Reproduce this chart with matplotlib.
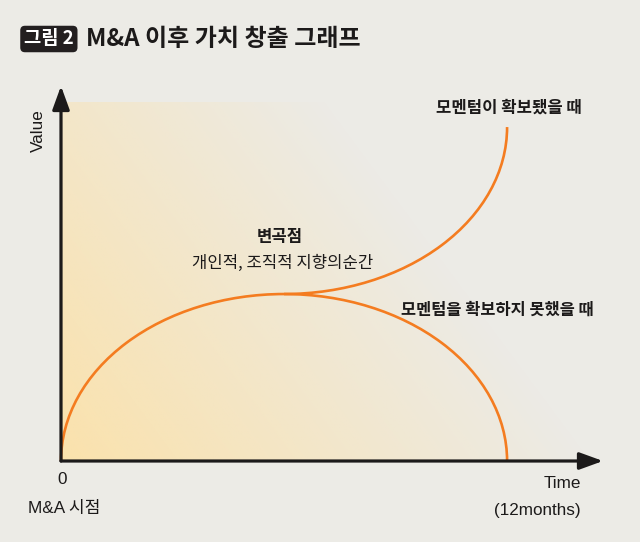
import numpy as np
import matplotlib
matplotlib.use("Agg")
import matplotlib.pyplot as plt
from matplotlib.patches import Arc, FancyArrowPatch
from matplotlib import font_manager

# data: conceptual value curve after M&A (time in months)
t_start, t_inflect, t_end = 0, 6, 12
v_start, v_inflect, v_top = 0, 5, 10
x_max, y_max = 14.58, 11.23

title_tag = "그림 2"
title = "M&A 이후 가치 창출 그래프"
label_up = "모멘텀이 확보됐을 때"
label_down = "모멘텀을 확보하지 못했을 때"
label_point = "변곡점"
label_point_sub = "개인적, 조직적 지향의순간"
x_label = ["Time", "(12months)"]
x_origin = ["0", "M&A 시점"]
y_label = "Value"

BG = "#ecebe6"
ORANGE = "#f47c20"
INK = "#1c1a1a"

installed = {f.name for f in font_manager.fontManager.ttflist}
narrow = "Liberation Sans Narrow" in installed
LAT = ["Liberation Sans Narrow" if narrow else "Liberation Sans", "Noto Sans CJK KR"]
lat_size = 14.5 if narrow else 12.3
KR = ["Noto Sans CJK KR", "DejaVu Sans"]

fig = plt.figure(figsize=(6.4, 5.42), dpi=100)
fig.patch.set_facecolor(BG)

# axes placed so the axis lines sit where the reference has them
ax = fig.add_axes([61 / 640, (542 - 461) / 542, (603 - 61) / 640, (461 - 86) / 542])
ax.set_xlim(0, x_max)
ax.set_ylim(0, y_max)
ax.set_facecolor("none")
ax.axis("off")

# soft yellow gradient from bottom-left corner
gx, gy = np.meshgrid(np.linspace(0, 1, 300), np.linspace(0, 1, 300))
alpha = np.clip(1 - (1.0 * gx + 0.5 * gy), 0, 1)
img = np.zeros((300, 300, 4))
img[..., 0] = 0xfb / 255
img[..., 1] = 0xe2 / 255
img[..., 2] = 0xac / 255
img[..., 3] = alpha
ax.imshow(img, extent=(0, 14.3, 0, 10.75), origin="lower", aspect="auto", zorder=1)

# lower curve: half ellipse up to the inflection and back down
ax.add_patch(Arc((t_inflect, v_start), 2 * (t_end - t_inflect), 2 * (v_inflect - v_start),
                 theta1=0, theta2=180, color=ORANGE, lw=1.9, zorder=3, clip_on=False))
# upper curve: quarter ellipse from the inflection up to the top
ax.add_patch(Arc((t_inflect, v_top), 2 * (t_end - t_inflect), 2 * (v_top - v_inflect),
                 theta1=270, theta2=360, color=ORANGE, lw=1.9, zorder=3, clip_on=False))

# axis arrows
for end in [(x_max, 0), (0, y_max)]:
    ar = FancyArrowPatch((0, 0), end, arrowstyle="-|>,head_length=0.55,head_width=0.2",
                         mutation_scale=26, color=INK, lw=2.3, shrinkA=0, shrinkB=0,
                         zorder=4, clip_on=False)
    ax.add_patch(ar)

# annotations
ax.text(12.05, 10.57, label_up, family=KR, weight="bold", fontsize=12,
        ha="center", va="center", color=INK, zorder=5)
ax.text(5.89, 6.71, label_point, family=KR, weight="bold", fontsize=12,
        ha="center", va="center", color=INK, zorder=5)
ax.text(5.95, 5.93, label_point_sub, family=KR, fontsize=12,
        ha="center", va="center", color=INK, zorder=5)
ax.text(11.73, 4.52, label_down, family=KR, weight="bold", fontsize=11.8,
        ha="center", va="center", color=INK, zorder=5)

# axis texts (figure pixel coordinates)
def px(x, y):
    return x / 640, 1 - y / 542

fig.text(*px(62, 480), x_origin[0], family=LAT, fontsize=lat_size, ha="center", va="center", color=INK)
fig.text(*px(64, 508), x_origin[1], family=LAT, fontsize=lat_size, ha="center", va="center", color=INK)
fig.text(*px(581, 483), x_label[0], family=LAT, fontsize=lat_size, ha="right", va="center", color=INK)
fig.text(*px(581, 510), x_label[1], family=LAT, fontsize=lat_size, ha="right", va="center", color=INK)
fig.text(*px(38, 131), y_label, family=LAT, fontsize=lat_size, rotation=90,
         ha="center", va="center", color=INK)

# title
fig.text(*px(24, 39), title_tag, family=KR, weight="bold", fontsize=13.5, color="white",
         ha="left", va="center",
         bbox=dict(boxstyle="round,pad=0.2,rounding_size=0.25", fc="#231f20", ec="none"))
fig.text(*px(86, 39), title, family=KR, weight="bold", fontsize=17.3, color=INK,
         ha="left", va="center")

fig.savefig("out.png", dpi=100, facecolor=BG)
